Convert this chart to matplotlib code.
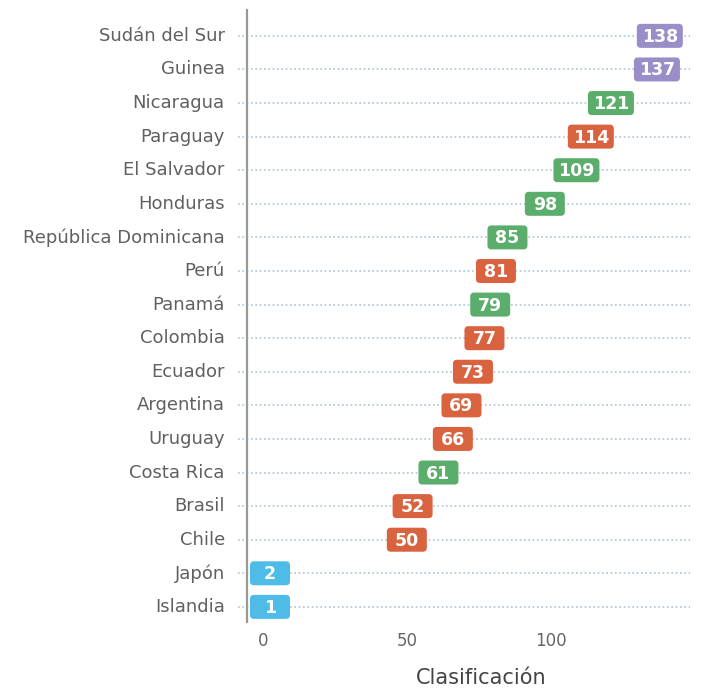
import matplotlib.pyplot as plt
from matplotlib.patches import FancyBboxPatch

plt.rcParams["font.family"] = ["DejaVu Sans"]

# Ranking per country, top to bottom
countries = [
    "Sudán del Sur", "Guinea", "Nicaragua", "Paraguay", "El Salvador", "Honduras",
    "República Dominicana", "Perú", "Panamá", "Colombia", "Ecuador", "Argentina",
    "Uruguay", "Costa Rica", "Brasil", "Chile", "Japón", "Islandia",
]
ranks = [138, 137, 121, 114, 109, 98, 85, 81, 79, 77, 73, 69, 66, 61, 52, 50, 2, 1]
groups = [
    "p", "p", "g", "r", "g", "g", "g", "r", "g", "r", "r", "r", "r", "g", "r", "r", "b", "b",
]
palette = {"p": "#9b8dc7", "g": "#5bad6b", "r": "#d9623f", "b": "#4fbce8"}
xticks = [0, 50, 100]

W, H = 702, 690
fig = plt.figure(figsize=(W / 100, H / 100), dpi=100)
ax_px = (247, 68, 443, 612)  # left, bottom, width, height in pixels
ax = fig.add_axes([ax_px[0] / W, ax_px[1] / H, ax_px[2] / W, ax_px[3] / H])

xmin, xmax = -5.6, 148.5
ymin, ymax = -0.45, len(countries) - 1 + 0.77
ax.set_xlim(xmin, xmax)
ax.set_ylim(ymin, ymax)

px_x = ax_px[2] / (xmax - xmin)  # pixels per x unit
px_y = ax_px[3] / (ymax - ymin)  # pixels per y unit

ypos = list(range(len(countries)))[::-1]

# dotted guide lines, starting a little left of the axis
ax.hlines(ypos, xmin - 3.2, xmax, colors="#a9c7da", linestyles=(0, (1, 1.6)),
          linewidth=1.2, clip_on=False, zorder=1)

box_h = 24 / px_y
for y, v, g in zip(ypos, ranks, groups):
    w_px = 46 if v >= 100 else 40
    bw = w_px / px_x
    cx = max(v, xmin + 3 / px_x + bw / 2)
    r = 4 / px_x
    box = FancyBboxPatch((cx - bw / 2 + r, y - box_h / 2 + r * px_x / px_y),
                         bw - 2 * r, box_h - 2 * r * px_x / px_y,
                         boxstyle=f"round,pad={r},rounding_size={r}",
                         mutation_aspect=px_x / px_y,
                         facecolor=palette[g], edgecolor="none", zorder=3)
    ax.add_patch(box)
    ax.text(cx, y - 0.03, str(v), ha="center", va="center", color="white",
            fontsize=12.5, fontweight="bold", zorder=4)

ax.set_yticks(ypos)
ax.set_yticklabels(countries, fontsize=13, color="#606060")
for lbl in ax.get_yticklabels():
    lbl.set_verticalalignment("center")
ax.set_xticks(xticks)
ax.set_xticklabels([str(t) for t in xticks], fontsize=12, color="#666666")
ax.tick_params(axis="y", length=0, pad=16)
ax.tick_params(axis="x", length=0, pad=7)
ax.set_xlabel("Clasificación", fontsize=15, color="#444444", labelpad=16)
ax.xaxis.set_label_coords(0.528, -0.075)

for side in ["top", "right", "bottom"]:
    ax.spines[side].set_visible(False)
ax.spines["left"].set_color("#999999")
ax.spines["left"].set_linewidth(1.6)

fig.savefig("out.png", dpi=100)
